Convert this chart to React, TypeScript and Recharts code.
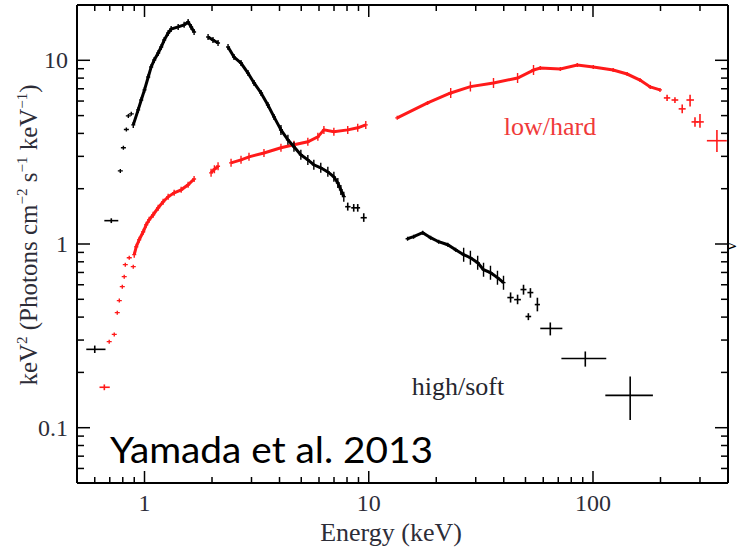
import { ScatterChart, Scatter, XAxis, YAxis, ErrorBar } from "recharts"

// axis ticks (keV on x, keV^2 Photons cm^-2 s^-1 keV^-1 on y)
const xTicks = [0.6, 0.7, 0.8, 0.9, 1, 2, 3, 4, 5, 6, 7, 8, 9, 10, 20, 30, 40, 50, 60, 70, 80, 90, 100, 200, 300]
const xMajor = [1, 10, 100]
const yTicks = [0.06, 0.07, 0.08, 0.09, 0.1, 0.2, 0.3, 0.4, 0.5, 0.6, 0.7, 0.8, 0.9, 1, 2, 3, 4, 5, 6, 7, 8, 9, 10]
const yMajor = [0.1, 1, 10]

// high/soft state (black) -- [E, value] or [E, value, Elo, Ehi, vlo, vhi]
const softLowWide = [
  [0.6, 0.267, 0.55, 0.67, 0.255, 0.28],
  [0.711, 1.34, 0.662, 0.764, 1.3, 1.38],
]
const softLowDots = [[0.78, 2.5], [0.805, 3.34], [0.83, 4.2], [0.847, 4.98], [0.873, 5.11]]
const softRise = [
  [0.891, 4.45], [0.937, 5.37], [0.967, 6.08], [1.0, 6.9], [1.039, 8.11], [1.071, 9.2], [1.105, 10.04],
  [1.151, 10.96], [1.187, 11.81], [1.224, 12.89], [1.275, 14.07], [1.315, 14.8], [1.413, 15.2],
  [1.502, 15.6], [1.565, 16.15], [1.614, 15.2], [1.664, 14.25],
]
const soft2keV = [[1.921, 13.39], [2.02, 12.9], [2.128, 12.42]]
const softFall = [
  [2.358, 11.81], [2.507, 10.42], [2.694, 9.66], [2.894, 8.52], [3.08, 7.53], [3.31, 6.64], [3.55, 5.71],
  [3.78, 4.92], [4.06, 4.18],
]
const softFallNoisy = [
  [4.06, 4.18], [4.36, 3.69], [4.64, 3.38], [4.98, 3.06], [5.35, 2.87], [5.69, 2.7], [6.11, 2.6],
  [6.57, 2.47], [6.99, 2.32], [7.28, 2.15], [7.51, 1.97], [7.74, 1.81],
]
const softTail = [
  [8.06, 1.596, 7.85, 8.3, 1.52, 1.68],
  [8.57, 1.574, 8.35, 8.8, 1.5, 1.65],
  [8.93, 1.574, 8.75, 9.15, 1.5, 1.65],
  [9.5, 1.39, 9.2, 9.8, 1.32, 1.47],
]
const softHxd = [
  [14.9, 1.069], [15.85, 1.096], [17.4, 1.152], [18.87, 1.082], [20.5, 1.029], [22.5, 0.991],
  [24.4, 0.931], [26.5, 0.875],
]
const softHxdNoisy = [
  [26.5, 0.875], [28.4, 0.842], [30.6, 0.791], [32.5, 0.725], [34.9, 0.698], [37.5, 0.656], [39.9, 0.616],
]
const softHxdCross = [
  [42.9, 0.511, 41.5, 44.3, 0.48, 0.545],
  [46.1, 0.498, 44.5, 47.7, 0.47, 0.53],
  [49.0, 0.565, 47.5, 50.5, 0.53, 0.6],
  [51.5, 0.403, 50, 53, 0.385, 0.42],
  [52.6, 0.544, 51, 54.2, 0.51, 0.575],
  [56.5, 0.468, 55, 58, 0.43, 0.51],
]
const softHigh = [
  [64.5, 0.347, 58.2, 73, 0.318, 0.374],
  [92.4, 0.238, 72.3, 114.6, 0.215, 0.26],
  [146.5, 0.15, 113.5, 185, 0.11, 0.19],
]

// low/hard state (red)
const hardLowWide = [[0.662, 0.166, 0.63, 0.7, 0.16, 0.172]]
const hardLowDots = [
  [0.696, 0.294], [0.733, 0.322], [0.756, 0.423], [0.772, 0.492], [0.796, 0.586], [0.812, 0.664],
  [0.821, 0.772], [0.855, 0.842], [0.891, 0.753],
]
const hardRise = [
  [0.9, 0.875], [0.919, 0.967], [0.947, 1.055], [0.987, 1.166], [1.018, 1.273], [1.049, 1.355],
  [1.093, 1.443], [1.151, 1.575], [1.211, 1.698], [1.275, 1.807], [1.356, 1.9], [1.457, 1.972],
  [1.565, 2.1], [1.664, 2.26],
]
const hard2keV = [[1.981, 2.44], [2.05, 2.55], [2.128, 2.65]]
const hardMid = [
  [2.432, 2.766], [2.694, 2.872], [2.924, 2.982], [3.41, 3.13], [4.06, 3.34], [4.64, 3.47], [5.35, 3.6],
  [5.93, 3.83], [6.31, 4.18], [6.99, 4.08], [8.06, 4.18], [8.93, 4.29], [9.7, 4.45],
]
const hardHxdA = [[13.4, 4.86], [18.3, 5.86], [23.2, 6.64]]
const hardHxdNoisy = [[23.2, 6.64], [28.4, 7.19], [36.0, 7.53], [46.1, 8.01], [54.3, 8.85]]
const hardHxdB = [
  [54.3, 8.85], [58.2, 9.08], [71.5, 8.97], [85.1, 9.43], [100.3, 9.2], [123, 8.85], [142, 8.42],
  [162, 7.81], [180, 7.16], [199, 6.9],
]
const hardCross = [
  [214, 6.24, 207, 221, 6.0, 6.5],
  [232, 6.08, 224, 240, 5.85, 6.3],
  [250, 5.44, 241, 259, 5.15, 5.75],
  [271, 6.08, 261, 282, 5.6, 6.5],
  [285, 4.62, 275, 295, 4.35, 4.9],
  [300, 4.62, 289, 312, 4.29, 5.1],
  [357, 3.65, 322, 395, 3.17, 4.18],
]

const BLACK = "#000"
const RED = "#ff1a1a"
const LABEL = "#2d2d38"
const SERIF = "'Liberation Serif', 'Times New Roman', serif"

const pts = (rows: number[][]) => rows.map(([x, y]) => ({ x, y }))
const bars = (rows: number[][]) =>
  rows.map(([x, y, x0, x1, y0, y1]) => ({ x, y, ex: [x - x0, x1 - x], ey: [y - y0, y1 - y] }))

const mark = (color: string, w: number, h: number) => (p: any) => (
  <path
    d={`M${p.cx - w},${p.cy}H${p.cx + w}M${p.cx},${p.cy - h}V${p.cy + h}`}
    stroke={color}
    strokeWidth={1.4}
    fill="none"
  />
)

const dense = (key: string, rows: number[][], color: string, h: number, line = true) => (
  <Scatter
    key={key}
    data={pts(rows)}
    xAxisId="b"
    yAxisId="l"
    isAnimationActive={false}
    shape={mark(color, line ? 2 : 2.5, h)}
    line={line ? { stroke: color, strokeWidth: 3 } : false}
  />
)

const crosses = (key: string, rows: number[][], color: string) => (
  <Scatter
    key={key}
    data={bars(rows)}
    xAxisId="b"
    yAxisId="l"
    isAnimationActive={false}
    shape={() => <g />}
  >
    <ErrorBar dataKey="ex" direction="x" width={0} stroke={color} strokeWidth={1.6} />
    <ErrorBar dataKey="ey" direction="y" width={0} stroke={color} strokeWidth={1.6} />
  </Scatter>
)

const tickLine = (x1: number, y1: number, x2: number, y2: number) => (
  <line x1={x1} y1={y1} x2={x2} y2={y2} stroke="#000" strokeWidth={1.5} />
)

const BottomTick = (props: any) => {
  const { x, y, payload } = props
  const major = xMajor.includes(payload.value)
  return (
    <g>
      {tickLine(x, y, x, y - (major ? 12 : 6))}
      {major && (
        <text x={x} y={y + 28} textAnchor="middle" fontFamily={SERIF} fontSize={24} fill={LABEL}>
          {payload.value}
        </text>
      )}
    </g>
  )
}

const TopTick = (props: any) => {
  const { x, y, payload } = props
  const major = xMajor.includes(payload.value)
  return <g>{tickLine(x, y, x, y + (major ? 12 : 6))}</g>
}

const LeftTick = (props: any) => {
  const { x, y, payload } = props
  const major = yMajor.includes(payload.value)
  return (
    <g>
      {tickLine(x, y, x + (major ? 13 : 7), y)}
      {major && (
        <text x={x - 9} y={y + 8} textAnchor="end" fontFamily={SERIF} fontSize={24} fill={LABEL}>
          {payload.value}
        </text>
      )}
    </g>
  )
}

const RightTick = (props: any) => {
  const { x, y, payload } = props
  const major = yMajor.includes(payload.value)
  return <g>{tickLine(x, y, x - (major ? 13 : 7), y)}</g>
}

const frame = { stroke: "#000", strokeWidth: 2 }

export default function App() {
  return (
    <div style={{ position: "relative", width: 739, height: 550, background: "#fff" }}>
      <style>{"body{margin:0}"}</style>
      <ScatterChart width={739} height={550} margin={{ top: 0, right: 0, bottom: 0, left: 0 }}>
        <XAxis
          xAxisId="b"
          orientation="bottom"
          type="number"
          dataKey="x"
          scale="log"
          domain={[0.5, 400]}
          allowDataOverflow
          ticks={xTicks}
          interval={0}
          tickSize={0}
          tickMargin={0}
          tickLine={false}
          axisLine={frame}
          tick={<BottomTick />}
          height={67}
        />
        <XAxis
          xAxisId="t"
          orientation="top"
          type="number"
          dataKey="x"
          scale="log"
          domain={[0.5, 400]}
          allowDataOverflow
          ticks={xTicks}
          interval={0}
          tickSize={0}
          tickMargin={0}
          tickLine={false}
          axisLine={frame}
          tick={<TopTick />}
          height={5}
        />
        <YAxis
          yAxisId="l"
          orientation="left"
          type="number"
          dataKey="y"
          scale="log"
          domain={[0.05, 20]}
          allowDataOverflow
          ticks={yTicks}
          interval={0}
          tickSize={0}
          tickMargin={0}
          tickLine={false}
          axisLine={frame}
          tick={<LeftTick />}
          width={77}
        />
        <YAxis
          yAxisId="r"
          orientation="right"
          type="number"
          dataKey="y"
          scale="log"
          domain={[0.05, 20]}
          allowDataOverflow
          ticks={yTicks}
          interval={0}
          tickSize={0}
          tickMargin={0}
          tickLine={false}
          axisLine={frame}
          tick={<RightTick />}
          width={11}
        />

        {dense("hLowDots", hardLowDots, RED, 2, false)}
        {dense("hRise", hardRise, RED, 3)}
        {dense("h2", hard2keV, RED, 4)}
        {dense("hMid", hardMid, RED, 4)}
        {dense("hA", hardHxdA, RED, 2)}
        {dense("hN", hardHxdNoisy, RED, 5)}
        {dense("hB", hardHxdB, RED, 2)}
        {crosses("hLow", hardLowWide, RED)}
        {crosses("hCross", hardCross, RED)}

        {dense("sLowDots", softLowDots, BLACK, 2, false)}
        {dense("sRise", softRise, BLACK, 3)}
        {dense("s2", soft2keV, BLACK, 3)}
        {dense("sFall", softFall, BLACK, 3)}
        {dense("sFallN", softFallNoisy, BLACK, 5)}
        {dense("sHxd", softHxd, BLACK, 2)}
        {dense("sHxdN", softHxdNoisy, BLACK, 7)}
        {crosses("sLow", softLowWide, BLACK)}
        {crosses("sTail", softTail, BLACK)}
        {crosses("sHxdC", softHxdCross, BLACK)}
        {crosses("sHigh", softHigh, BLACK)}
      </ScatterChart>

      <svg width={739} height={550} style={{ position: "absolute", left: 0, top: 0, pointerEvents: "none" }}>
        <text
          x={37}
          y={235}
          transform="rotate(-90 37 235)"
          textAnchor="middle"
          fontFamily={SERIF}
          fontSize={25}
          fill={LABEL}
        >
          keV
          <tspan fontSize={15} dy={-10}>2</tspan>
          <tspan dy={10}> (Photons cm</tspan>
          <tspan fontSize={15} dy={-10}>−2</tspan>
          <tspan dy={10}> s</tspan>
          <tspan fontSize={15} dy={-10}>−1</tspan>
          <tspan dy={10}> keV</tspan>
          <tspan fontSize={15} dy={-10}>−1</tspan>
          <tspan dy={10}>)</tspan>
        </text>
        <text x={391} y={541} textAnchor="middle" fontFamily={SERIF} fontSize={26} fill={LABEL}>
          Energy (keV)
        </text>
        <text x={550} y={135} textAnchor="middle" fontFamily={SERIF} fontSize={26} fill="#f03a3a">
          low/hard
        </text>
        <text x={458} y={395} textAnchor="middle" fontFamily={SERIF} fontSize={26} fill="#26262e">
          high/soft
        </text>
        <text x={110} y={463} fontFamily="Lato, 'Noto Sans', sans-serif" fontSize={37} fill="#000" textLength={323} lengthAdjust="spacingAndGlyphs">
          Yamada et al. 2013
        </text>
        <text x={736} y={250} transform="rotate(-90 736 250)" fontFamily={SERIF} fontSize={16} fill="#000">
          ν
        </text>
      </svg>
    </div>
  )
}
